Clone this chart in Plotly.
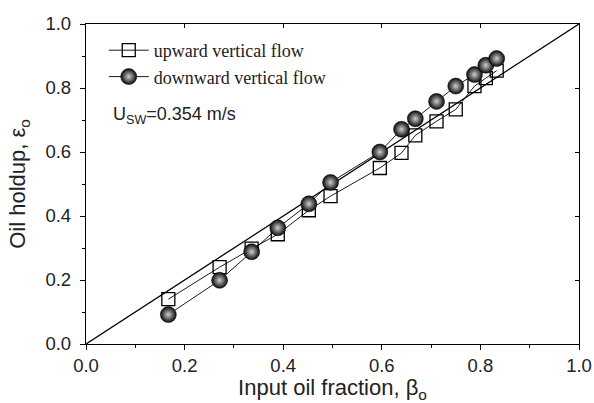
import plotly.graph_objects as go

beta_up = [0.167, 0.271, 0.336, 0.389, 0.452, 0.496, 0.596, 0.640, 0.668, 0.711, 0.750, 0.788, 0.811, 0.833]
eps_up = [0.140, 0.240, 0.298, 0.343, 0.418, 0.462, 0.550, 0.597, 0.652, 0.696, 0.733, 0.806, 0.831, 0.854]
beta_down = [0.167, 0.271, 0.336, 0.389, 0.452, 0.496, 0.596, 0.640, 0.668, 0.711, 0.750, 0.788, 0.811, 0.833]
eps_down = [0.092, 0.199, 0.288, 0.363, 0.438, 0.505, 0.600, 0.671, 0.704, 0.758, 0.806, 0.842, 0.871, 0.892]
diag = [0.0, 1.0]

fig = go.Figure()
fig.add_trace(go.Scatter(x=diag, y=diag, mode="lines", line=dict(color="black", width=1.3),
                         showlegend=False, hoverinfo="skip"))
fig.add_trace(go.Scatter(x=beta_up, y=eps_up, mode="lines+markers", name="upward vertical flow",
                         line=dict(color="black", width=0.9),
                         marker=dict(symbol="square-open", size=13, color="black", line=dict(width=1.3))))
fig.add_trace(go.Scatter(x=beta_down, y=eps_down, mode="lines+markers", name="downward vertical flow",
                         line=dict(color="black", width=0.9),
                         marker=dict(symbol="circle", size=16, color="#0a0a0a",
                                     gradient=dict(type="radial", color="#cfcfcf"),
                                     line=dict(width=0.5, color="black"))))

tickfont = dict(family="Liberation Sans, Arial", size=18.5, color="#222")
titlefont = dict(family="Liberation Sans, Arial", size=22, color="#222")
axis_common = dict(range=[0, 1], dtick=0.2, tickformat=".1f", showgrid=False, zeroline=False,
                   showline=True, linecolor="black", linewidth=1.3, ticks="outside", ticklen=5,
                   tickwidth=1, tickcolor="black", automargin=False,
                   minor=dict(dtick=0.1, ticks="outside", ticklen=3, tickcolor="black"),
                   tickfont=tickfont)

fig.update_layout(
    width=594, height=403,
    margin=dict(l=86, r=15, t=24, b=59),
    plot_bgcolor="white", paper_bgcolor="white",
    xaxis=dict(**axis_common, ticklabelstandoff=0,
               title=dict(text="Input oil fraction, β<sub>o</sub>", standoff=5, font=titlefont)),
    yaxis=dict(**axis_common, ticklabelstandoff=5,
               title=dict(text="Oil holdup, ε<sub>o</sub>", standoff=13, font=titlefont)),
    xaxis2=dict(range=[0, 1], overlaying="x", side="top", showline=True, linecolor="black", linewidth=1.3,
                ticks="inside", ticklen=4, dtick=0.2, showticklabels=False, showgrid=False, zeroline=False,
                tickcolor="black", automargin=False),
    yaxis2=dict(range=[0, 1], overlaying="y", side="right", showline=True, linecolor="black", linewidth=1.3,
                ticks="inside", ticklen=4, dtick=0.2, showticklabels=False, showgrid=False, zeroline=False,
                tickcolor="black", automargin=False),
    legend=dict(x=0.036, y=0.975, xanchor="left", yanchor="top", bgcolor="rgba(0,0,0,0)",
                font=dict(family="Liberation Serif, Times New Roman", size=18, color="#222"),
                tracegroupgap=0, itemwidth=40),
    showlegend=True,
)
fig.add_trace(go.Scatter(x=[None], y=[None], xaxis="x2", yaxis="y2", showlegend=False, hoverinfo="skip"))

fig.add_annotation(x=0.05, y=0.715, xref="x", yref="y", xanchor="left", yanchor="middle", showarrow=False,
                   text="U<sub>SW</sub>=0.354 m/s",
                   font=dict(family="Liberation Sans, Arial", size=18, color="#222"))

fig.write_html("out.html", config={"displayModeBar": False},
               post_script="document.body.style.margin='0';document.body.style.overflow='hidden';")
